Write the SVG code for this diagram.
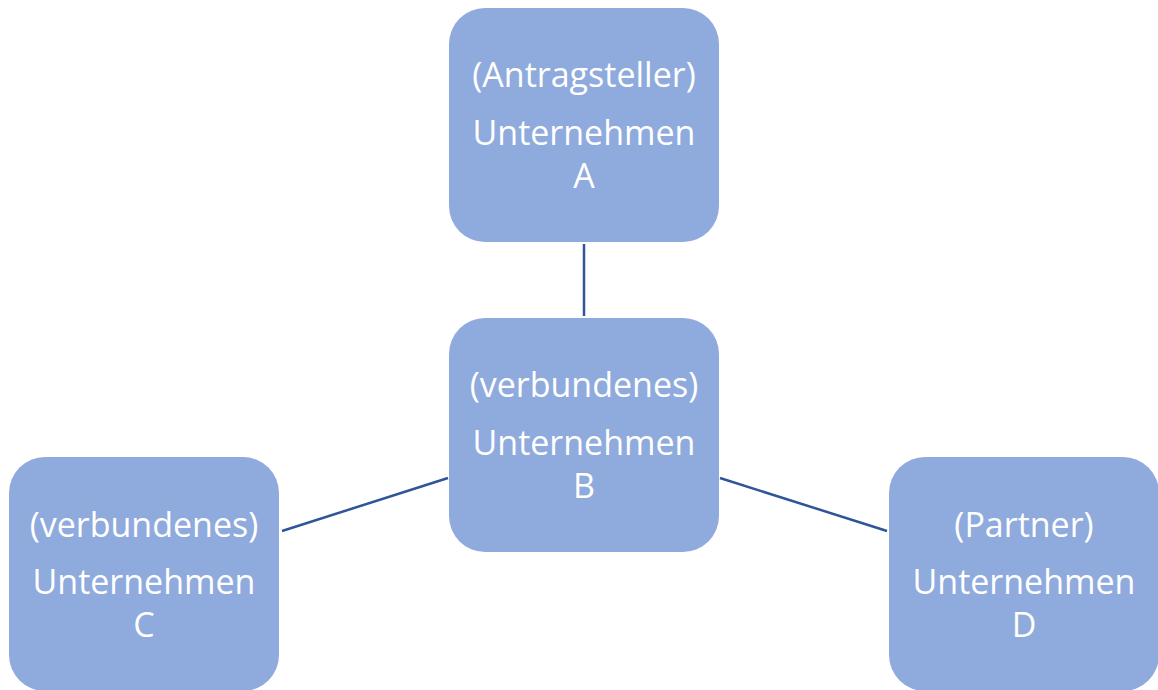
<svg xmlns="http://www.w3.org/2000/svg" width="1158" height="690" viewBox="0 0 1158 690">
<style>
.box{fill:#8FAADC;}
.t{font-family:"Open Sans","Liberation Sans",sans-serif;font-size:34px;fill:#FFFFFF;text-anchor:middle;}
.c{stroke:#2F5597;stroke-width:2.5;fill:none;}
</style>
<rect width="1158" height="690" fill="#FFFFFF"/>
<g id="connectors">
<line class="c" x1="584" y1="244" x2="584" y2="316"/>
<line class="c" x1="448" y1="478" x2="282" y2="531"/>
<line class="c" x1="720" y1="478" x2="887" y2="531"/>
</g>
<g id="nodeA">
<rect class="box" x="449" y="8" width="270" height="234" rx="36"/>
<text class="t" x="584" y="87">(Antragsteller)</text>
<text class="t" x="584" y="145">Unternehmen</text>
<text class="t" x="584" y="188">A</text>
</g>
<g id="nodeB">
<rect class="box" x="449" y="318" width="270" height="234" rx="36"/>
<text class="t" x="584" y="397">(verbundenes)</text>
<text class="t" x="584" y="455">Unternehmen</text>
<text class="t" x="584" y="498">B</text>
</g>
<g id="nodeC">
<rect class="box" x="9" y="457" width="270" height="234" rx="36"/>
<text class="t" x="144" y="537">(verbundenes)</text>
<text class="t" x="144" y="594">Unternehmen</text>
<text class="t" x="144" y="637">C</text>
</g>
<g id="nodeD">
<rect class="box" x="889" y="457" width="270" height="234" rx="36"/>
<text class="t" x="1024" y="537">(Partner)</text>
<text class="t" x="1024" y="594">Unternehmen</text>
<text class="t" x="1024" y="637">D</text>
</g>
</svg>
